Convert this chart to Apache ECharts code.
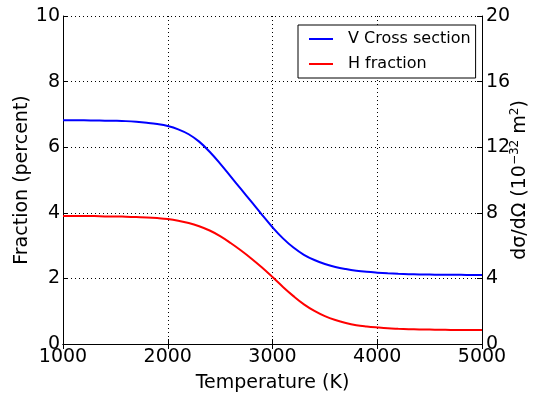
<!DOCTYPE html>
<html>
<head>
<meta charset="utf-8">
<script src="https://cdn.jsdelivr.net/npm/echarts@6/dist/echarts.min.js"></script>
<style>
  html, body { margin: 0; padding: 0; background: #fff; }
  #chart { width: 533px; height: 398px; }
</style>
</head>
<body>
<div id="chart"></div>
<script>
// Temperature samples (K)
const temps = [1000, 1100, 1200, 1300, 1400, 1500, 1600, 1700, 1800, 1900,
               2000, 2100, 2200, 2300, 2400, 2500, 2600, 2700, 2800, 2900,
               3000, 3100, 3200, 3300, 3400, 3500, 3600, 3700, 3800, 3900,
               4000, 4100, 4200, 4300, 4400, 4500, 4600, 4700, 4800, 4900, 5000];

// Differential cross section, 10^-32 m^2 (right axis)
const crossSection = [13.64, 13.64, 13.64, 13.63, 13.62, 13.61, 13.59, 13.55, 13.49, 13.41,
                      13.29, 13.09, 12.79, 12.34, 11.72, 11.00, 10.22, 9.44, 8.66, 7.88,
                      7.12, 6.44, 5.88, 5.44, 5.12, 4.88, 4.70, 4.57, 4.47, 4.40,
                      4.35, 4.31, 4.28, 4.26, 4.245, 4.235, 4.225, 4.22, 4.215, 4.21, 4.21];

// Hydrogen fraction, percent (left axis)
const hFraction = [3.90, 3.90, 3.90, 3.90, 3.89, 3.89, 3.88, 3.87, 3.86, 3.84,
                   3.81, 3.76, 3.69, 3.59, 3.46, 3.29, 3.08, 2.85, 2.60, 2.33,
                   2.04, 1.74, 1.46, 1.21, 1.01, 0.85, 0.73, 0.64, 0.575, 0.535,
                   0.505, 0.48, 0.465, 0.453, 0.445, 0.44, 0.435, 0.43, 0.428, 0.426, 0.425];

const xTicks = [1000, 2000, 3000, 4000, 5000];
const leftTicks = [0, 2, 4, 6, 8, 10];
const rightTicks = [0, 4, 8, 12, 16, 20];

const FONT = 'DejaVu Sans';
const black = '#000';
const dotted = { color: black, width: 1, type: [1, 3] };

const chart = echarts.init(document.getElementById('chart'), null, { renderer: 'canvas' });

const tickCommon = { show: true, inside: true, length: 5, lineStyle: { color: black, width: 1 } };
const lineIcon = 'path://M0,5 L24,5 L24,7 L0,7 Z';

chart.setOption({
  backgroundColor: '#fff',
  animation: false,
  textStyle: { fontFamily: FONT },
  grid: { left: 63, right: 51, top: 16, bottom: 54, containLabel: false, outerBoundsMode: 'none' },
  legend: {
    orient: 'vertical',
    left: 298,
    top: 25,
    padding: [6, 5, 6, 11],
    borderColor: black,
    borderWidth: 1,
    borderRadius: 0,
    backgroundColor: '#fff',
    itemWidth: 24,
    itemHeight: 12,
    itemGap: 9,
    textStyle: { fontFamily: FONT, fontSize: 16, color: black, padding: [0, 0, 0, 10] },
    data: [
      { name: 'V Cross section', icon: lineIcon, itemStyle: { color: '#0000ff' } },
      { name: 'H fraction', icon: lineIcon, itemStyle: { color: '#ff0000' } }
    ]
  },
  xAxis: [
    {
      type: 'value',
      position: 'bottom',
      min: xTicks[0],
      max: xTicks[xTicks.length - 1],
      interval: xTicks[1] - xTicks[0],
      name: 'Temperature (K)',
      nameLocation: 'middle',
      nameGap: 30,
      nameMoveOverlap: false,
      nameTextStyle: { fontFamily: FONT, fontSize: 19, color: black },
      axisLine: { show: true, lineStyle: { color: black, width: 1 } },
      axisTick: tickCommon,
      axisLabel: { fontFamily: FONT, fontSize: 19, color: black, margin: 4, formatter: v => String(v) },
      splitLine: { show: true, lineStyle: dotted }
    },
    {
      type: 'value',
      position: 'top',
      min: xTicks[0],
      max: xTicks[xTicks.length - 1],
      interval: xTicks[1] - xTicks[0],
      axisLine: { show: true, lineStyle: { color: black, width: 1 } },
      axisTick: tickCommon,
      axisLabel: { show: false },
      splitLine: { show: false }
    }
  ],
  yAxis: [
    {
      type: 'value',
      position: 'left',
      min: leftTicks[0],
      max: leftTicks[leftTicks.length - 1],
      interval: leftTicks[1] - leftTicks[0],
      name: 'Fraction (percent)',
      nameLocation: 'middle',
      nameGap: 31,
      nameRotate: 90,
      nameMoveOverlap: false,
      nameTextStyle: { fontFamily: FONT, fontSize: 19, color: black },
      axisLine: { show: true, lineStyle: { color: black, width: 1 } },
      axisTick: tickCommon,
      axisLabel: { fontFamily: FONT, fontSize: 19, color: black, margin: 3 },
      splitLine: { show: true, lineStyle: dotted }
    },
    {
      type: 'value',
      position: 'right',
      min: rightTicks[0],
      max: rightTicks[rightTicks.length - 1],
      interval: rightTicks[1] - rightTicks[0],
      name: '{a|dσ/dΩ (10}{s|−32}{a| m}{s|2}{a|)}',
      nameLocation: 'middle',
      nameGap: 27,
      nameRotate: 90,
      nameMoveOverlap: false,
      nameTextStyle: {
        fontFamily: FONT, color: black,
        rich: {
          a: { fontFamily: FONT, fontSize: 19, color: black },
          s: { fontFamily: FONT, fontSize: 12, color: black, padding: [0, 0, 11, 0] }
        }
      },
      axisLine: { show: true, lineStyle: { color: black, width: 1 } },
      axisTick: tickCommon,
      axisLabel: { fontFamily: FONT, fontSize: 19, color: black, margin: 4 },
      splitLine: { show: false }
    }
  ],
  series: [
    {
      name: 'V Cross section',
      type: 'line',
      xAxisIndex: 0,
      yAxisIndex: 1,
      data: temps.map((t, i) => [t, crossSection[i]]),
      smooth: 0.4,
      symbol: 'none',
      lineStyle: { color: '#0000ff', width: 2 },
      itemStyle: { color: '#0000ff' },
      z: 3
    },
    {
      name: 'H fraction',
      type: 'line',
      xAxisIndex: 0,
      yAxisIndex: 0,
      data: temps.map((t, i) => [t, hFraction[i]]),
      smooth: 0.4,
      symbol: 'none',
      lineStyle: { color: '#ff0000', width: 2 },
      itemStyle: { color: '#ff0000' },
      z: 3
    }
  ]
});
</script>
</body>
</html>
